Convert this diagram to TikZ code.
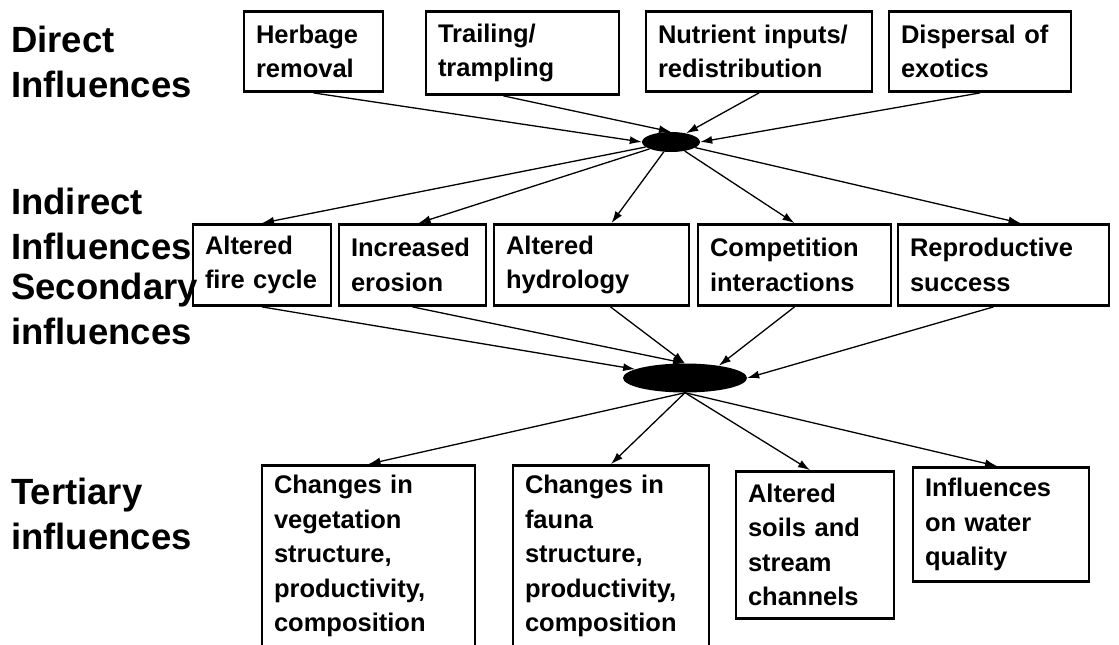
\documentclass[tikz,border=0pt]{standalone}
\usepackage{fontspec}
\setmainfont{Liberation Sans}
\usetikzlibrary{shapes.geometric,arrows.meta}

\tikzset{
	box/.style={draw, line width=2.8pt, inner xsep=12pt, inner ysep=0pt, align=left,
		text width=#1-26pt, font=\bfseries\fontsize{25.5}{34.5}\selectfont},
	hub/.style={ellipse, fill=black, inner sep=0pt},
	side/.style={anchor=north west, inner sep=0pt, align=left,
		font=\bfseries\fontsize{36.5}{45}\selectfont},
	link/.style={line width=1.3pt, -{Latex[length=12pt,width=8pt]}},
}

\begin{document}
\begin{tikzpicture}[x=1pt, y=-1pt]
		%%%%% START %%%%%
		\clip (0, 0) rectangle (1119, 645);
		
		% row titles
		\node[side] (tdirect) at (11, 26) {Direct\\Influences};
		\node[side] (tindirect) at (11, 188) {Indirect\\Influences};
		\node[side] (tsecond) at (11, 273) {Secondary\\influences};
		\node[side] (tthird) at (11, 478) {Tertiary\\influences};
		
		% direct
		\node[box=141, minimum height=80] (herb) at (313.5, 51.5) {Herbage\\removal};
		\node[box=195, minimum height=83] (trail) at (522.5, 53) {Trailing/\\trampling};
		\node[box=228, minimum height=80] (nutr) at (759, 51.5) {Nutrient inputs/\\redistribution};
		\node[box=184, minimum height=80] (disp) at (980, 51.5) {Dispersal of\\exotics};
		
		\node[hub, minimum width=58, minimum height=20] (hub1) at (671, 142) {};
		
		% indirect
		\node[box=140, minimum height=81] (fire) at (262, 265) {Altered\\fire cycle};
		\node[box=149, minimum height=81] (eros) at (412.5, 265) {Increased\\erosion};
		\node[box=197, minimum height=81] (hydro) at (591.5, 265) {Altered\\hydrology};
		\node[box=195, minimum height=81] (comp) at (794.5, 265) {Competition\\interactions};
		\node[box=213, minimum height=81] (repro) at (1003.5, 265) {Reproductive\\success};
		
		\node[hub, minimum width=124, minimum height=29] (hub2) at (685, 378) {};
		
		% tertiary
		\node[box=215, minimum height=181] (veg) at (368.5, 556) {Changes in\\vegetation\\structure,\\productivity,\\composition};
		\node[box=198, minimum height=181] (fauna) at (611, 556) {Changes in\\fauna\\structure,\\productivity,\\composition};
		\node[box=160, minimum height=147] (soils) at (815, 545) {Altered\\soils and\\stream\\channels};
		\node[box=178, minimum height=114] (water) at (1001, 524.5) {Influences\\on water\\quality};
		
		% into the first hub
		\draw[link] (herb.south) -- (hub1.west);
		\draw[link] ([xshift=-19pt]trail.south) -- (hub1.north);
		\draw[link] (nutr.south) -- (hub1.30);
		\draw[link] (disp.south) -- (hub1.east);
		
		% out of the first hub
		\draw[link] (hub1) -- (fire.north);
		\draw[link] (hub1) -- ([xshift=6pt]eros.north);
		\draw[link] (hub1) -- ([xshift=20pt]hydro.north);
		\draw[link] (hub1) -- (comp.north);
		\draw[link] (hub1) -- ([xshift=17pt]repro.north);
		
		% into the second hub
		\draw[link] (fire.south) -- (hub2.170);
		\draw[link] (eros.south) -- (hub2.north);
		\draw[link] ([xshift=19pt]hydro.south) -- (hub2.north);
		\draw[link] (comp.south) -- (hub2.20);
		\draw[link] ([xshift=-10pt]repro.south) -- (hub2.east);
		
		% out of the second hub
		\draw[link] (hub2.south) -- (veg.north);
		\draw[link] (hub2.south) -- (fauna.north);
		\draw[link] (hub2.south) -- ([xshift=-5pt]soils.north);
		\draw[link] (hub2.south) -- ([xshift=-4pt]water.north);
		
		%%%%% END %%%%%
\end{tikzpicture}
\end{document}
